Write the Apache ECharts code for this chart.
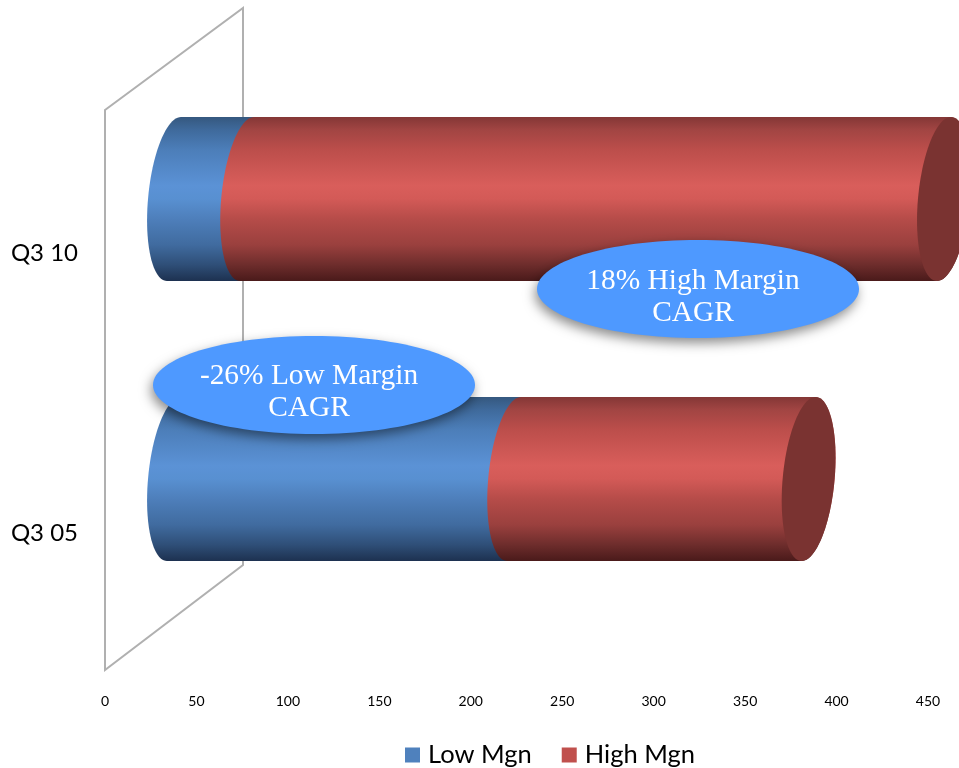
<!DOCTYPE html>
<html>
<head>
<meta charset="utf-8">
<style>html,body{margin:0;padding:0;background:#fff}#chart{width:959px;height:768px}</style>
<script src="https://cdn.jsdelivr.net/npm/echarts@6/dist/echarts.min.js"></script>
</head>
<body>
<div id="chart"></div>
<script>
// Revenue mix by margin band
const categories = ['Q3 05', 'Q3 10'];
const lowMargin = [186, 40];
const highMargin = [161, 381];
const seriesNames = ['Low Mgn', 'High Mgn'];
const xTicks = { min: 0, max: 450, step: 50 };
const calloutHigh = '18% High Margin\nCAGR';
const calloutLow = '-26% Low Margin\nCAGR';

// Cylinder geometry: back wall depth and the slanted elliptical caps
const DEPTH_X = 138, DEPTH_Y = 102, WALL_BACK_DROP = 105;
const SHIFT_X = DEPTH_X / 2, SHIFT_Y = -51;
const CAP_H = 82, CAP_A = 26, CAP_K = 7;

const blueBody = [
  [0, '#35587f'], [0.08, '#3f6a9c'], [0.2, '#4c7eb9'], [0.42, '#5b92d6'], [0.5, '#5890d1'],
  [0.62, '#4e7fbb'], [0.78, '#406b9f'], [0.9, '#2f4f78'], [1, '#1d3150']
];
const redBody = [
  [0, '#843736'], [0.08, '#a24543'], [0.2, '#bc4e4b'], [0.42, '#d95e5b'], [0.5, '#d35a57'],
  [0.62, '#b64c49'], [0.78, '#9a403e'], [0.9, '#6e2d2c'], [1, '#4a1a1a']
];

function capPoint(cx, cy, t) {
  return [cx + CAP_A * Math.cos(t) - CAP_K * Math.sin(t), cy + CAP_H * Math.sin(t)];
}

function cylinderItem(stops, withEndCap) {
  return function (params, api) {
    const cat = api.value(0);
    const a = api.coord([api.value(1), cat]);
    const b = api.coord([api.value(2), cat]);
    const cy = a[1] + SHIFT_Y;
    const x0 = a[0] + SHIFT_X, x1 = b[0] + SHIFT_X;
    const N = 48;
    const pts = [];
    for (let i = 0; i <= N; i++) {
      pts.push(capPoint(x0, cy, -Math.PI / 2 - Math.PI * i / N));
    }
    for (let i = 0; i <= N; i++) {
      pts.push(capPoint(x1, cy, Math.PI / 2 - Math.PI * i / N));
    }
    const children = [{
      type: 'polygon',
      shape: { points: pts },
      style: { fill: new echarts.graphic.LinearGradient(0, 0, 0, 1, stops.map(s => ({ offset: s[0], color: s[1] }))) }
    }];
    if (withEndCap) {
      const cap = [];
      for (let i = 0; i < N * 2; i++) cap.push(capPoint(x1, cy, Math.PI * i / N));
      children.push({ type: 'polygon', shape: { points: cap }, style: { fill: '#7a3331' } });
    }
    return { type: 'group', children };
  };
}

function wallItem(params) {
  const c = params.coordSys;
  return {
    type: 'polygon',
    shape: {
      points: [
        [c.x, c.y], [c.x + DEPTH_X, c.y - DEPTH_Y],
        [c.x + DEPTH_X, c.y + c.height - WALL_BACK_DROP], [c.x, c.y + c.height]
      ]
    },
    style: { fill: 'none', stroke: '#b0b0b0', lineWidth: 2 }
  };
}

const lowData = categories.map((_, i) => [i, 0, lowMargin[i]]);
const highData = categories.map((_, i) => [i, lowMargin[i], lowMargin[i] + highMargin[i]]);

function callout(cx, cy, tx, ty, text) {
  return [
    {
      type: 'ellipse', z: 20,
      shape: { cx, cy, rx: 161, ry: 49 },
      style: { fill: '#4e99ff', shadowBlur: 12, shadowOffsetX: -2, shadowOffsetY: 5, shadowColor: 'rgba(0,0,0,0.45)' }
    },
    {
      type: 'text', z: 21, x: tx, y: ty,
      style: {
        text, fill: '#ffffff', align: 'center', verticalAlign: 'middle',
        fontFamily: '"Liberation Serif"', fontSize: 29.4, lineHeight: 32
      }
    }
  ];
}

const chart = echarts.init(document.getElementById('chart'), null, { renderer: 'canvas' });
chart.setOption({
  animation: false,
  backgroundColor: '#ffffff',
  grid: { left: 105, top: 110, width: 823, height: 560 },
  xAxis: {
    type: 'value', min: xTicks.min, max: xTicks.max, interval: xTicks.step,
    axisLine: { show: false }, axisTick: { show: false }, splitLine: { show: false },
    axisLabel: { fontFamily: 'Lato', fontSize: 14, color: '#000', margin: 24 }
  },
  yAxis: {
    type: 'category', data: categories,
    axisLine: { show: false }, axisTick: { show: false }, splitLine: { show: false },
    axisLabel: { fontFamily: 'Lato', fontSize: 24, color: '#000', margin: 27, verticalAlign: 'top', lineHeight: 7 }
  },
  legend: {
    data: seriesNames, left: 405, top: 742, padding: 0, icon: 'rect', itemWidth: 15, itemHeight: 15, itemGap: 30,
    textStyle: { fontFamily: 'Lato', fontSize: 25.5, color: '#000', padding: [0, 0, 0, 3] }
  },
  series: [
    { type: 'custom', name: 'wall', silent: true, data: [[0]], renderItem: wallItem, clip: false, z: 1 },
    {
      type: 'custom', name: seriesNames[0], data: lowData, clip: false, z: 2,
      itemStyle: { color: '#4f81bd' }, renderItem: cylinderItem(blueBody, false),
      encode: { x: [1, 2], y: 0 }
    },
    {
      type: 'custom', name: seriesNames[1], data: highData, clip: false, z: 3,
      itemStyle: { color: '#c0504d' }, renderItem: cylinderItem(redBody, true),
      encode: { x: [1, 2], y: 0 }
    }
  ],
  graphic: [
    ...callout(698, 289, 693, 297, calloutHigh),
    ...callout(314, 385, 309, 392, calloutLow)
  ]
});
</script>
</body>
</html>
